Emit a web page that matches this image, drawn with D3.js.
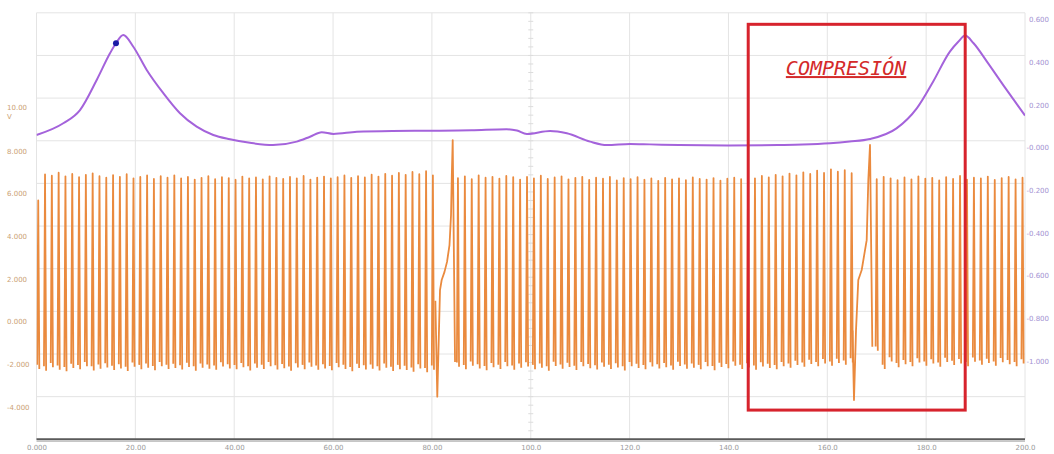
<!DOCTYPE html>
<html>
<head>
<meta charset="utf-8">
<script src="https://cdn.jsdelivr.net/npm/d3@7"></script>
<style>
  html, body { margin: 0; padding: 0; background: #ffffff; }
  svg { display: block; }
</style>
</head>
<body>
<svg id="chart" width="1054" height="454"></svg>
<script>
// ---- axes ----
const timeTicks = [0, 20, 40, 60, 80, 100, 120, 140, 160, 180, 200];
const timeLabels = ["0.000", "20.00", "40.00", "60.00", "80.00", "100.0", "120.0", "140.0", "160.0", "180.0", "200.0"];
const voltTicks = [10, 8, 6, 4, 2, 0, -2, -4];
const voltLabels = ["10.00", "8.000", "6.000", "4.000", "2.000", "0.000", "-2.000", "-4.000"];
const voltUnit = "V";
const pressTicks = [0.6, 0.4, 0.2, 0, -0.2, -0.4, -0.6, -0.8, -1.0];
const pressLabels = ["0.600", "0.400", "0.200", "-0.000", "-0.200", "-0.400", "-0.600", "-0.800", "-1.000"];

// ---- crank sensor (orange, volts): tooth crests and troughs per run of teeth ----
const seg1Span = [0.35, 80.2];
const seg1Tops = [5.20, 6.42, 6.36, 6.50, 6.33, 6.44, 6.29, 6.40, 6.47, 6.34,
  6.27, 6.39, 6.31, 6.43, 6.24, 6.30, 6.37, 6.21, 6.34, 6.27,
  6.38, 6.23, 6.30, 6.18, 6.26, 6.34, 6.20, 6.29, 6.25, 6.17,
  6.32, 6.23, 6.28, 6.19, 6.33, 6.26, 6.21, 6.30, 6.24, 6.35,
  6.18, 6.27, 6.32, 6.23, 6.29, 6.37, 6.26, 6.34, 6.28, 6.41,
  6.32, 6.45, 6.36, 6.49, 6.40, 6.54, 6.43, 6.57, 6.38];
const seg1Bottoms = [-2.70, -2.78, -2.62, -2.74, -2.81, -2.66, -2.72, -2.58, -2.77, -2.69,
  -2.63, -2.75, -2.68, -2.80, -2.60, -2.71, -2.65, -2.76, -2.57, -2.70,
  -2.66, -2.73, -2.61, -2.78, -2.64, -2.69, -2.74, -2.59, -2.68, -2.72,
  -2.62, -2.77, -2.65, -2.70, -2.58, -2.73, -2.67, -2.79, -2.63, -2.71,
  -2.60, -2.74, -2.68, -2.76, -2.62, -2.70, -2.81, -2.66, -2.73, -2.69,
  -2.77, -2.64, -2.80, -2.71, -2.75, -2.83, -2.68, -2.86, -2.74];

const seg2Span = [85.27, 164.93];
const seg2Tops = [6.25, 6.33, 6.20, 6.38, 6.27, 6.31, 6.22, 6.35, 6.29, 6.18,
  6.30, 6.24, 6.36, 6.21, 6.28, 6.33, 6.19, 6.26, 6.31, 6.16,
  6.27, 6.22, 6.30, 6.14, 6.25, 6.20, 6.29, 6.17, 6.23, 6.12,
  6.26, 6.19, 6.24, 6.15, 6.28, 6.21, 6.18, 6.25, 6.13, 6.22,
  6.27, 6.20, 6.31, 6.24, 6.35, 6.28, 6.40, 6.33, 6.46, 6.38,
  6.52, 6.44, 6.60, 6.49, 6.66, 6.55, 6.62, 6.48];
const seg2Bottoms = [-2.60, -2.72, -2.55, -2.68, -2.76, -2.62, -2.70, -2.57, -2.74, -2.65,
  -2.59, -2.71, -2.64, -2.78, -2.56, -2.69, -2.61, -2.75, -2.58, -2.67,
  -2.73, -2.60, -2.70, -2.63, -2.77, -2.57, -2.66, -2.72, -2.59, -2.68,
  -2.62, -2.74, -2.56, -2.69, -2.65, -2.71, -2.58, -2.76, -2.61, -2.67,
  -2.55, -2.70, -2.63, -2.74, -2.59, -2.66, -2.72, -2.57, -2.64, -2.52,
  -2.60, -2.47, -2.58, -2.44, -2.55, -2.42, -2.50, -2.40];

const seg3Span = [170.0, 199.5];
const seg3Tops = [6.20, 6.31, 6.24, 6.15, 6.28, 6.19, 6.33, 6.22, 6.26, 6.14,
  6.29, 6.21, 6.35, 6.18, 6.27, 6.23, 6.32, 6.16, 6.25, 6.30, 6.19, 6.27];
const seg3Bottoms = [-1.85, -2.70, -2.35, -2.62, -2.48, -2.58, -2.40, -2.55, -2.45, -2.60,
  -2.38, -2.52, -2.44, -2.57, -2.36, -2.50, -2.42, -2.55, -2.39, -2.48, -2.58, -2.45];

// missing-tooth gap events [time, volts]
const gap1 = [[80.70, 0.50], [81.09, -4.00], [81.64, 1.00], [81.98, 1.47], [82.55, 1.85],
  [83.06, 2.32], [83.56, 3.11], [83.87, 4.52], [84.03, 6.39], [84.21, 8.03], [84.68, -2.38]];
const gap2 = [[165.10, -0.90], [165.40, -4.16], [165.81, -0.88], [166.27, 1.47], [166.96, 1.94],
  [167.97, 3.34], [168.30, 6.16], [168.64, 7.80], [169.11, -1.66]];

// ---- cylinder pressure (purple, right axis) [time, value] ----
const pressTime = [0, 5.42, 8.8, 12.18, 14.87, 16.08, 17.56, 19.59, 22.3, 25.66, 29.03, 32.41,
  35.77, 39.15, 43.5, 47.85, 52.65, 55.34, 57.7, 60.05, 64.8, 72, 79.6, 88, 95.1, 97.2,
  99.2, 103.9, 107.3, 112, 115.4, 120.1, 124.1, 130, 140, 150, 155, 160.55, 164.5,
  168.63, 174.0, 178.1, 181.4, 184.8, 186.5, 187.9, 189.6, 192.3, 195.6, 200];
const pressValue = [0.027, 0.082, 0.144, 0.285, 0.410, 0.457, 0.496, 0.441, 0.332, 0.223, 0.129, 0.066,
  0.027, 0.007, -0.011, -0.020, -0.004, 0.019, 0.040, 0.032, 0.042, 0.046, 0.047, 0.049, 0.054, 0.048,
  0.032, 0.046, 0.035, -0.004, -0.020, -0.015, -0.017, -0.020, -0.022, -0.020, -0.018, -0.012, -0.004,
  0.008, 0.058, 0.152, 0.277, 0.418, 0.464, 0.493, 0.457, 0.371, 0.261, 0.118];
const cursorPoint = [16.08, 0.457];

// ---- annotation ----
const boxTime = [144.0, 187.9];
const boxVolts = [13.46, -4.63];
const noteText = "COMPRESIÓN";
const notePos = [163.8, 11.08];

// ---- layout ----
const plot = { left: 36.5, right: 1025, top: 12.8, bottom: 439.3 };
const labelFont = "DejaVu Sans";
const labelSize = "7px";

const svg = d3.select("#chart");
const x = d3.scaleLinear().domain([0, 200]).range([plot.left, plot.right]);
const yV = d3.scaleLinear().domain([-6, 14]).range([plot.bottom, plot.top]);
const yP = d3.scaleLinear().domain([-1.4, 0.6]).range([plot.bottom, plot.top]);

svg.append("defs").append("clipPath").attr("id", "plotClip")
  .append("rect")
  .attr("x", plot.left).attr("y", plot.top)
  .attr("width", plot.right - plot.left).attr("height", plot.bottom - plot.top);

// grid
const grid = svg.append("g");
grid.selectAll("line.h").data(d3.range(-6, 15, 2)).join("line")
  .attr("x1", plot.left).attr("x2", plot.right)
  .attr("y1", d => yV(d)).attr("y2", d => yV(d))
  .attr("stroke", "#e4e4e4").attr("stroke-width", 1);
grid.selectAll("line.v").data(timeTicks).join("line")
  .attr("x1", d => x(d)).attr("x2", d => x(d))
  .attr("y1", plot.top).attr("y2", plot.bottom)
  .attr("stroke", "#e4e4e4").attr("stroke-width", 1);
// minor marks on the centre line
grid.selectAll("line.m").data(d3.range(-6, 14.01, 0.4)).join("line")
  .attr("x1", x(100) - 2.5).attr("x2", x(100) + 2.5)
  .attr("y1", d => yV(d)).attr("y2", d => yV(d))
  .attr("stroke", "#dcdcdc").attr("stroke-width", 1);

// axis labels
const axB = svg.append("g").attr("transform", `translate(0,${plot.bottom})`)
  .call(d3.axisBottom(x).tickValues(timeTicks).tickFormat((d, i) => timeLabels[i]).tickSize(0).tickPadding(0));
axB.select(".domain").remove();
axB.selectAll("text").attr("dy", 10.5).attr("fill", "#9a9a9a")
  .style("font-family", labelFont).style("font-size", labelSize);

const axL = svg.append("g")
  .call(d3.axisLeft(yV).tickValues(voltTicks).tickFormat((d, i) => voltLabels[i]).tickSize(0));
axL.select(".domain").remove();
axL.selectAll("text").attr("x", 7).attr("dy", 12.5).attr("text-anchor", "start")
  .attr("fill", "#cb9f74").style("font-family", labelFont).style("font-size", labelSize);
axL.selectAll(".tick").filter(d => d === 10).select("text").attr("dy", 11);
svg.append("text").attr("x", 7).attr("y", yV(10) + 20.5).text(voltUnit)
  .attr("fill", "#cb9f74").style("font-family", labelFont).style("font-size", labelSize);

const axR = svg.append("g").attr("transform", `translate(1049,0)`)
  .call(d3.axisLeft(yP).tickValues(pressTicks).tickFormat((d, i) => pressLabels[i]).tickSize(0));
axR.select(".domain").remove();
axR.selectAll("text").attr("x", 0).attr("dy", 9).attr("text-anchor", "end")
  .attr("fill", "#a392d2").style("font-family", labelFont).style("font-size", labelSize);

// bottom axis rule
svg.append("line").attr("x1", plot.left).attr("x2", plot.right)
  .attr("y1", plot.bottom + 2).attr("y2", plot.bottom + 2)
  .attr("stroke", "#b8b8b8").attr("stroke-width", 1);
svg.append("line").attr("x1", plot.left).attr("x2", plot.right)
  .attr("y1", plot.bottom).attr("y2", plot.bottom)
  .attr("stroke", "#5a5a5a").attr("stroke-width", 2);

const traces = svg.append("g").attr("clip-path", "url(#plotClip)");

// crank sensor teeth
const voltLine = d3.line().x(d => x(d[0])).y(d => yV(d[1]));
function teeth(span, tops, bottoms) {
  const at = d3.scaleLinear().domain([0, tops.length - 1]).range(span);
  return tops.map((hi, i) => {
    const t = at(i), lo = bottoms[i];
    return [[t - 0.22, lo + 0.2], [t, hi], [t + 0.22, lo]];
  });
}
const toothPaths = [
  ...teeth(seg1Span, seg1Tops, seg1Bottoms),
  ...teeth(seg2Span, seg2Tops, seg2Bottoms),
  ...teeth(seg3Span, seg3Tops, seg3Bottoms),
  gap1, gap2
];
traces.append("g").selectAll("path").data(toothPaths).join("path")
  .attr("d", voltLine)
  .attr("fill", "none").attr("stroke", "#ea8a3e").attr("stroke-width", 1.8)
  .attr("stroke-linejoin", "round");

// pressure trace
const pressLine = d3.line().curve(d3.curveMonotoneX)
  .x((d, i) => x(pressTime[i])).y(d => yP(d));
traces.append("path").datum(pressValue)
  .attr("d", pressLine)
  .attr("fill", "none").attr("stroke", "#a463db").attr("stroke-width", 2);
traces.append("circle")
  .attr("cx", x(cursorPoint[0])).attr("cy", yP(cursorPoint[1])).attr("r", 3)
  .attr("fill", "#1b1ba6");

// compression stroke annotation
svg.append("rect")
  .attr("x", x(boxTime[0])).attr("y", yV(boxVolts[0]))
  .attr("width", x(boxTime[1]) - x(boxTime[0]))
  .attr("height", yV(boxVolts[1]) - yV(boxVolts[0]))
  .attr("fill", "none").attr("stroke", "#d7232d").attr("stroke-width", 3);
svg.append("text")
  .attr("x", x(notePos[0])).attr("y", yV(notePos[1]))
  .attr("text-anchor", "middle")
  .attr("fill", "#d42a2a")
  .style("font-family", "DejaVu Sans Mono").style("font-style", "italic")
  .style("font-size", "20px").style("text-decoration", "underline")
  .text(noteText);
</script>
</body>
</html>
